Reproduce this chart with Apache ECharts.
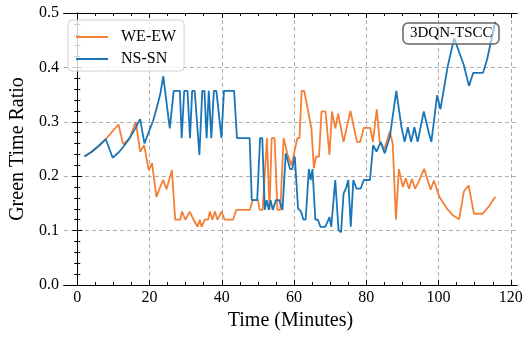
<!DOCTYPE html>
<html>
<head>
<meta charset="utf-8">
<script src="https://cdn.jsdelivr.net/npm/echarts@6/dist/echarts.min.js"></script>
<style>html,body{margin:0;padding:0;background:#fff}#c{width:531px;height:341px}</style>
</head>
<body>
<div id="c"></div>
<script>
// ---- data ----
const weTime  = [2,4,6,7.9,11.4,12.7,14.5,16.2,17.4,18.5,19.8,20.7,21.9,23,23.8,24.7,26.2,27.1,28.5,29,29.9,31.1,32.2,33.3,33.9,34.4,35.3,36.2,36.7,37.4,38.1,38.8,39.9,40.8,43.1,44,47.7,48.6,50,50.5,51.3,52.5,53.2,53.8,54.6,55.4,56.2,57.1,58.2,59.3,60,60.9,61.5,62.1,62.8,63.9,64.8,65.5,66.1,66.9,67.6,68.7,69.8,70.5,71.4,72.2,73.7,75.6,77.4,78.3,79.3,81.1,81.8,82.9,83.7,85,86.5,87.3,88.2,89,90.1,90.9,91.8,92.6,93.5,94.5,96,97.8,98.7,100.2,102.5,104,105.7,107,108.3,109.8,112.2,114,115.7];
const weRatio = [0.236,0.245,0.256,0.268,0.295,0.2585,0.27,0.30,0.245,0.257,0.211,0.224,0.162,0.181,0.193,0.176,0.211,0.12,0.12,0.135,0.12,0.135,0.12,0.107,0.12,0.107,0.12,0.12,0.135,0.12,0.135,0.12,0.135,0.12,0.12,0.138,0.138,0.156,0.156,0.138,0.138,0.27,0.138,0.27,0.27,0.138,0.138,0.27,0.24,0.22,0.242,0.27,0.27,0.357,0.357,0.319,0.288,0.2145,0.236,0.236,0.319,0.319,0.239,0.319,0.288,0.315,0.263,0.32,0.263,0.263,0.289,0.289,0.263,0.323,0.263,0.25,0.282,0.26,0.12,0.213,0.18,0.196,0.177,0.195,0.177,0.19,0.2135,0.175,0.192,0.162,0.139,0.128,0.121,0.172,0.183,0.131,0.131,0.145,0.162];
const nsTime  = [2,4,6,7.9,9.8,11.5,13,14.5,16,17.4,18.6,20,21,22,23,23.8,25.6,26.7,28.4,28.9,29.6,30.5,31.2,31.8,32.5,33.8,34.6,35.2,35.8,36.4,37.1,37.8,38.5,39.9,40.6,43.4,44.2,47.7,48.3,49.8,50.6,51.2,51.9,52.4,53,53.5,54.1,55,55.9,56.8,57.7,58.9,59.5,60.2,61.1,61.9,62.6,63.2,64.1,64.6,65.1,65.9,66.6,67.3,68.6,69.2,69.8,70.3,71.4,72.3,73,73.7,74.5,75,75.7,76.4,77.3,78.4,79.3,81,81.9,82.8,84,85.1,86.5,88.3,89.7,90.6,91.5,92.4,93.3,94.2,95.9,97.3,98,99.6,100.5,102.5,104.3,107,108.4,109.6,112.3,113.4,115.7];
const nsRatio = [0.236,0.245,0.256,0.268,0.234,0.244,0.256,0.27,0.287,0.305,0.26,0.285,0.302,0.326,0.352,0.384,0.288,0.357,0.357,0.27,0.357,0.357,0.27,0.357,0.357,0.239,0.357,0.357,0.27,0.357,0.27,0.357,0.357,0.27,0.357,0.357,0.27,0.27,0.156,0.156,0.27,0.27,0.138,0.156,0.138,0.156,0.138,0.156,0.156,0.138,0.242,0.213,0.213,0.236,0.141,0.135,0.12,0.12,0.213,0.193,0.213,0.12,0.12,0.107,0.107,0.115,0.125,0.107,0.193,0.101,0.097,0.168,0.18,0.193,0.107,0.193,0.177,0.177,0.193,0.193,0.257,0.245,0.263,0.242,0.2725,0.357,0.291,0.263,0.29,0.263,0.29,0.263,0.319,0.28,0.263,0.349,0.323,0.401,0.4535,0.404,0.366,0.39,0.39,0.414,0.484];
const seriesNames = ['WE-EW','NS-SN'];
const xMajor = [0,20,40,60,80,100,120];
const xMinor = [0,5,10,15,20,25,30,35,40,45,50,55,60,65,70,75,80,85,90,95,100,105,110,115,120];
const boxLabel = '3DQN-TSCC';

const FONT = '"Liberation Serif", "DejaVu Serif", serif';
const XMIN = -3.7, XMAX = 121.7;
const zip = (a, b) => a.map((t, i) => [t, b[i]]);

function xAx(pos, ticks, len, labels, extra) {
  return Object.assign({
    type: 'value', position: pos, min: XMIN, max: XMAX,
    axisLine: { show: true, onZero: false, lineStyle: { color: '#000', width: 1 } },
    axisTick: { show: true, inside: true, length: len, customValues: ticks, lineStyle: { color: '#000', width: 1 } },
    axisLabel: labels ? { show: true, customValues: ticks, color: '#000', fontFamily: FONT, fontSize: 16, margin: 5 } : { show: false },
    splitLine: { show: false }
  }, extra || {});
}

const chart = echarts.init(document.getElementById('c'), null, { renderer: 'canvas' });
chart.setOption({
  animation: false,
  backgroundColor: '#fff',
  grid: { left: 62, right: 14, top: 13, bottom: 56, containLabel: false },
  title: {
    text: boxLabel, left: 403, top: 23,
    padding: [3, 7, 3, 7],
    borderColor: '#666', borderWidth: 1.5, borderRadius: 5,
    backgroundColor: 'rgba(255,255,255,0.55)',
    textStyle: { fontFamily: FONT, fontSize: 15, fontWeight: 'normal', color: '#000' }
  },
  legend: {
    data: seriesNames, orient: 'vertical', left: 68, top: 20,
    padding: [9, 8, 4, 7], itemWidth: 32, itemHeight: 2, itemGap: 6,
    borderColor: '#d0d0d0', borderWidth: 1, borderRadius: 4,
    backgroundColor: 'rgba(255,255,255,0.8)',
    textStyle: { fontFamily: FONT, fontSize: 16, color: '#000', padding: [0, 0, 0, 8] }
  },
  xAxis: [
    xAx('bottom', xMajor, 5, true, {
      name: 'Time (Minutes)', nameLocation: 'middle', nameGap: 25,
      nameTextStyle: { fontFamily: FONT, fontSize: 20, color: '#000' },
      splitLine: { show: true, lineStyle: { color: '#999', type: [4, 3], width: 0.8 } }
    }),
    xAx('bottom', xMinor, 3, false),
    xAx('top', xMajor, 5, false),
    xAx('top', xMinor, 3, false)
  ],
  yAxis: [
    {
      type: 'value', position: 'left', min: 0, max: 0.5, interval: 0.1,
      name: 'Green Time Ratio', nameLocation: 'middle', nameGap: 24,
      nameTextStyle: { fontFamily: FONT, fontSize: 20, color: '#000' },
      axisLine: { show: true, lineStyle: { color: '#000', width: 1 } },
      axisTick: { show: true, inside: true, length: 5, lineStyle: { color: '#000' } },
      minorTick: { show: true, splitNumber: 5, length: 3, lineStyle: { color: '#000' } },
      axisLabel: { color: '#000', fontFamily: FONT, fontSize: 16, margin: 5, formatter: v => v.toFixed(1) },
      splitLine: { show: true, lineStyle: { color: '#999', type: [4, 3], width: 0.8 } }
    },
    {
      type: 'value', position: 'right', min: 0, max: 0.5, interval: 0.1,
      axisLine: { show: true, lineStyle: { color: '#000', width: 1 } },
      axisTick: { show: true, inside: true, length: 5, lineStyle: { color: '#000' } },
      minorTick: { show: true, splitNumber: 5, length: 3, lineStyle: { color: '#000' } },
      axisLabel: { show: false },
      splitLine: { show: false }
    }
  ],
  series: [
    { name: seriesNames[0], type: 'line', xAxisIndex: 0, yAxisIndex: 0, data: zip(weTime, weRatio),
      symbol: 'none', legendIcon: 'rect', color: '#f47f36', lineStyle: { width: 1.8, color: '#f47f36' } },
    { name: seriesNames[1], type: 'line', xAxisIndex: 0, yAxisIndex: 0, data: zip(nsTime, nsRatio),
      symbol: 'none', legendIcon: 'rect', color: '#1a75b8', lineStyle: { width: 1.8, color: '#1a75b8' } }
  ]
});
</script>
</body>
</html>
